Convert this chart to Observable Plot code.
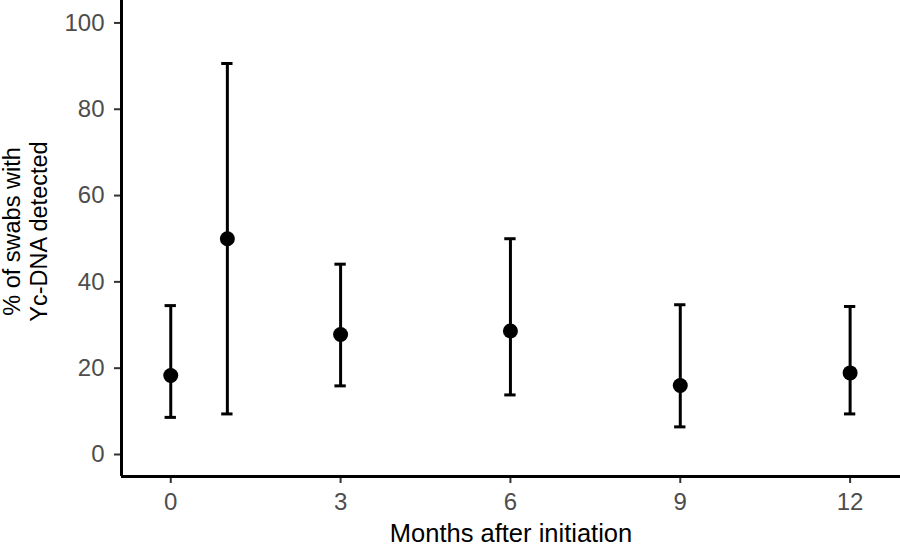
<!DOCTYPE html>
<html>
<head>
<meta charset="utf-8">
<script src="https://cdn.jsdelivr.net/npm/d3@7"></script>
<script src="https://cdn.jsdelivr.net/npm/@observablehq/plot@0.6"></script>
<style>
  html, body { margin: 0; padding: 0; background: #fff; }
  #chart { width: 900px; height: 545px; }
</style>
</head>
<body>
<div id="chart"></div>
<script>
const months = [0, 1, 3, 6, 9, 12];
const pct    = [18.3, 50.0, 27.8, 28.6, 16.0, 18.9];
const lower  = [8.6, 9.4, 15.9, 13.8, 6.4, 9.4];
const upper  = [34.5, 90.6, 44.1, 50.0, 34.7, 34.3];
const xTicks = [0, 3, 6, 9, 12];
const yTicks = [0, 20, 40, 60, 80, 100];
const xDomain = [-0.87, 12.89];
const yDomain = [-5.1, 105.2];
const capHalf = 0.1;

const data = months.map((m, i) => ({month: m, pct: pct[i], lo: lower[i], hi: upper[i]}));
const font = "'Liberation Sans', Arial, Helvetica, sans-serif";

const chart = Plot.plot({
  width: 900,
  height: 545,
  marginLeft: 121,
  marginRight: 0,
  marginTop: 0,
  marginBottom: 69,
  style: {fontFamily: font, fontSize: "24px", background: "#fff"},
  x: {domain: xDomain},
  y: {domain: yDomain},
  marks: [
    Plot.axisY({ticks: yTicks, tickSize: 7, tickPadding: 10, stroke: "#333", strokeWidth: 2, fill: "#4d4d4d", label: null}),
    Plot.axisX({ticks: xTicks, tickSize: 7, tickPadding: 9, stroke: "#333", strokeWidth: 2, fill: "#4d4d4d", label: null}),
    Plot.ruleX([xDomain[0]], {stroke: "#000", strokeWidth: 3}),
    Plot.ruleY([yDomain[0]], {stroke: "#000", strokeWidth: 3}),
    Plot.ruleX(data, {x: "month", y1: "lo", y2: "hi", stroke: "#000", strokeWidth: 3}),
    Plot.ruleY(data, {y: "lo", x1: d => d.month - capHalf, x2: d => d.month + capHalf, stroke: "#000", strokeWidth: 3}),
    Plot.ruleY(data, {y: "hi", x1: d => d.month - capHalf, x2: d => d.month + capHalf, stroke: "#000", strokeWidth: 3}),
    Plot.dot(data, {x: "month", y: "pct", r: 7.5, fill: "#000", stroke: null}),
    Plot.text(["Months after initiation"], {frameAnchor: "bottom", dy: 57, fontSize: 25.5, fill: "#000", textAnchor: "middle", lineAnchor: "middle"}),
    Plot.text(["% of swabs with\nYc-DNA detected"], {frameAnchor: "left", dx: -97, dy: -7, rotate: -90, fontSize: 23.5, fill: "#000", textAnchor: "middle", lineAnchor: "middle", lineHeight: 1.15})
  ]
});
document.getElementById("chart").appendChild(chart);
</script>
</body>
</html>
